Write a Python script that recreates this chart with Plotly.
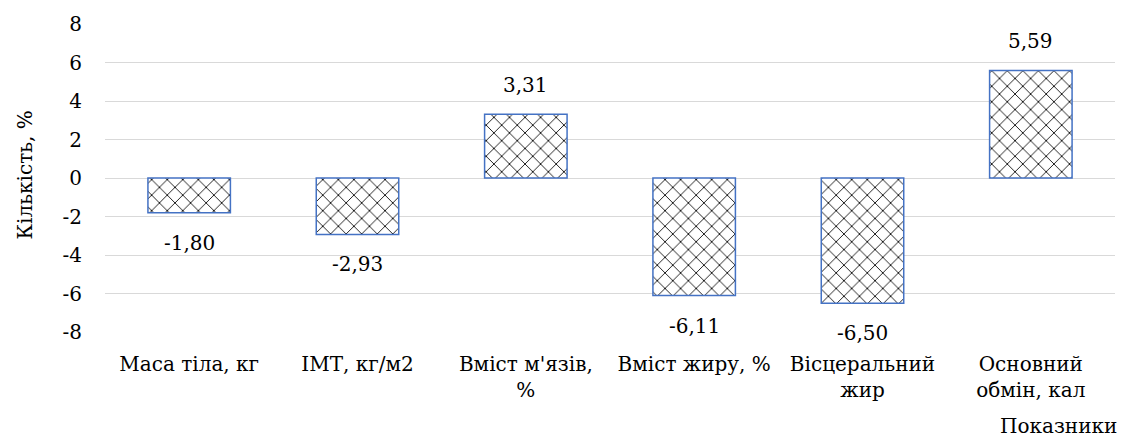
import plotly.graph_objects as go

categories = [
    "Маса тіла, кг",
    "ІМТ, кг/м2",
    "Вміст м'язів,<br>%",
    "Вміст жиру, %",
    "Вісцеральний<br>жир",
    "Основний<br>обмін, кал",
]
values = [-1.80, -2.93, 3.31, -6.11, -6.50, 5.59]
y_ticks = [8, 6, 4, 2, 0, -2, -4, -6, -8]
y_tick_labels = ["8", "6", "4", "2", "0", "-2", "-4", "-6", "-8"]

FONT = "DejaVu Serif"
FS = 20

fig = go.Figure()
fig.add_trace(go.Bar(
    x=categories,
    y=values,
    width=0.49,
    marker=dict(
        color="white",
        line=dict(color="#4472C4", width=1.5),
        pattern=dict(shape="x", size=11, solidity=0.15, fgcolor="black",
                     fgopacity=1, bgcolor="white"),
    ),
    hoverinfo="skip",
))

# value labels placed past the bar end, comma as decimal separator
for c, v in zip(categories, values):
    fig.add_annotation(
        x=c, y=v, xref="x", yref="y",
        text=f"{v:.2f}".replace(".", ","),
        showarrow=False,
        yanchor="bottom" if v >= 0 else "top",
        yshift=15 if v >= 0 else -16,
        font=dict(family=FONT, size=FS, color="black"),
    )

fig.add_annotation(
    x=1.004, y=-0.305, xref="paper", yref="paper",
    text="Показники", showarrow=False,
    xanchor="right", yanchor="middle",
    font=dict(family=FONT, size=FS, color="black"),
)
fig.add_annotation(
    x=-0.0797, y=0.51, xref="paper", yref="paper",
    text="Кількість, %", showarrow=False, textangle=-90,
    xanchor="center", yanchor="middle",
    font=dict(family=FONT, size=FS, color="black"),
)

fig.update_layout(
    width=1126, height=441,
    margin=dict(l=105, r=11, t=24, b=109),
    plot_bgcolor="white", paper_bgcolor="white",
    showlegend=False,
    font=dict(family=FONT, size=FS, color="black"),
    bargap=0.51,
)
fig.update_xaxes(
    showgrid=False, showline=False, ticks="",
    ticklabelstandoff=18,
    tickfont=dict(family=FONT, size=FS, color="black"),
)
fig.update_yaxes(
    range=[-8, 8], tickvals=y_ticks, ticktext=y_tick_labels,
    showgrid=True, gridcolor="#d9d9d9", gridwidth=1.3,
    zeroline=True, zerolinecolor="#d9d9d9", zerolinewidth=1.3,
    showline=False, ticks="",
    ticklabelstandoff=22,
    tickfont=dict(family=FONT, size=FS, color="black"),
)

fig.write_html("out.html")
